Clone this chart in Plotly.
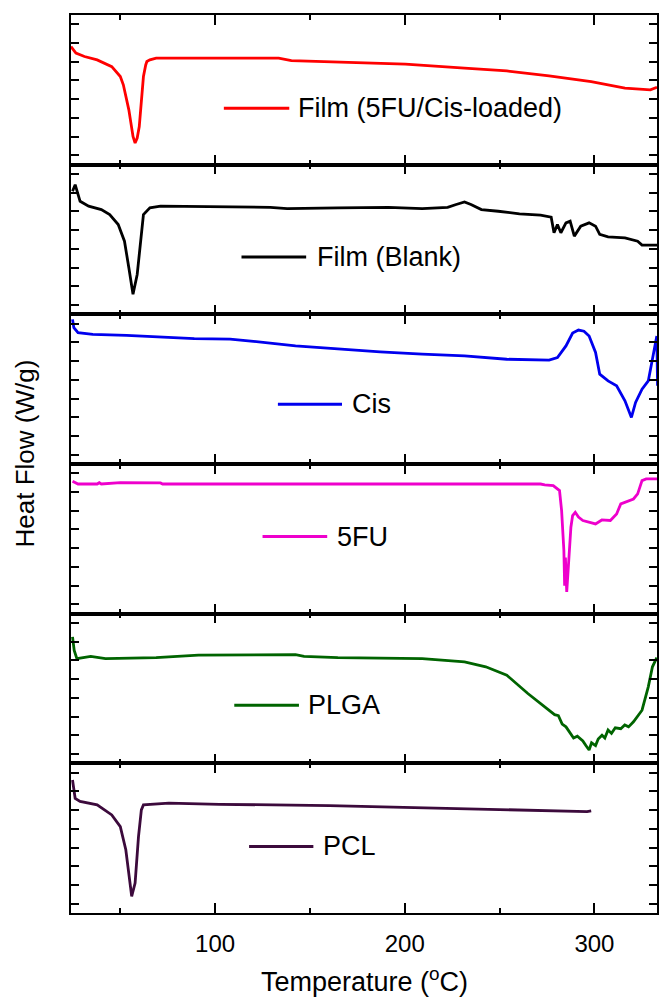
import plotly.graph_objects as go
from plotly.subplots import make_subplots

# ---------------- data ----------------
names = ["Film (5FU/Cis-loaded)", "Film (Blank)", "Cis", "5FU", "PLGA", "PCL"]
colors = ["#ff0000", "#000000", "#0000ee", "#ee00cc", "#006400", "#3c0a3c"]

x_film_loaded = [24.0, 26.6, 31.1, 37.8, 45.5, 50.0, 51.6, 53.3, 54.5, 55.6, 56.7, 57.8, 58.9, 60.0, 60.7,
                 61.8, 62.2, 63.4, 64.0, 65.6, 68.9, 100.0, 133.5, 140.2, 164.7, 200.3, 231.5, 253.8,
                 276.1, 298.3, 316.1, 329.5, 333.0]
y_film_loaded = [6.31, 5.96, 5.78, 5.60, 5.24, 4.71, 4.27, 3.47, 2.93, 2.22, 1.51, 1.16, 1.42, 2.04, 2.93,
                 4.00, 4.71, 5.33, 5.51, 5.60, 5.69, 5.69, 5.69, 5.56, 5.48, 5.37, 5.16, 5.01,
                 4.75, 4.44, 4.09, 4.00, 4.14]

x_film_blank = [24.8, 26.2, 28.8, 33.3, 40.0, 44.4, 48.9, 52.2, 54.5, 56.7, 58.9, 60.7, 62.2, 65.6, 71.2,
                129.1, 138.0, 164.7, 191.4, 209.2, 222.6, 227.1, 231.5, 234.9, 240.4, 249.3, 260.5,
                271.6, 277.2, 278.7, 280.5, 282.3, 285.0, 287.2, 289.4, 292.8, 297.2, 300.6, 302.8,
                307.2, 316.1, 322.8, 325.1, 333.0]
y_film_blank = [6.58, 6.93, 6.04, 5.78, 5.60, 5.33, 4.80, 3.91, 2.49, 1.07, 2.13, 3.91, 5.33, 5.69, 5.78,
                5.72, 5.65, 5.69, 5.72, 5.65, 5.72, 5.87, 6.01, 5.87, 5.60, 5.51, 5.37,
                5.30, 5.19, 4.36, 4.80, 4.36, 4.89, 4.98, 4.18, 4.71, 4.89, 4.71, 4.27,
                4.14, 4.09, 3.91, 3.70, 3.70]

x_cis = [24.8, 25.5, 27.7, 35.5, 53.3, 89.0, 107.9, 120.2, 142.4, 164.7, 187.0, 209.2, 231.5, 253.8,
         276.1, 280.5, 285.0, 288.5, 291.6, 294.5, 297.2, 300.6, 302.8, 307.2, 311.7, 316.1, 319.5,
         321.7, 325.1, 328.4, 330.6, 332.9, 333.3]
y_cis = [7.73, 7.29, 7.02, 6.93, 6.88, 6.70, 6.67, 6.56, 6.31, 6.13, 5.99, 5.87, 5.78, 5.60,
         5.55, 5.69, 6.31, 7.00, 7.16, 7.10, 6.84, 5.96, 4.80, 4.44, 4.18, 3.38, 2.49,
         3.29, 4.00, 4.44, 5.60, 6.84, 4.18]

x_5fu = [24.8, 27.7, 37.8, 38.9, 40.0, 50.0, 71.2, 72.3, 271.6, 273.8, 278.3, 281.6, 282.7, 283.9,
         284.3, 284.7, 285.4, 286.1, 286.7, 287.6, 288.5, 289.9, 291.6, 293.9, 300.6, 303.9, 308.4,
         311.7, 313.9, 320.6, 322.8, 325.1, 327.3, 333.0]
y_5fu = [7.08, 6.93, 6.93, 7.00, 6.93, 7.00, 6.99, 6.93, 6.93, 6.88, 6.84, 6.58, 5.51, 3.38,
         1.50, 3.00, 1.16, 2.50, 3.20, 4.62, 5.24, 5.42, 5.16, 4.98, 4.80, 5.01, 4.98,
         5.33, 5.87, 6.13, 6.40, 7.11, 7.20, 7.20]

x_plga = [24.8, 25.7, 27.1, 34.4, 42.2, 68.9, 91.2, 142.4, 146.9, 164.7, 209.2, 220.4, 231.5, 242.7,
          253.8, 264.9, 276.1, 279.0, 281.0, 283.0, 285.0, 287.2, 289.0, 291.0, 293.9, 295.5, 297.2,
          298.5, 300.6, 302.0, 304.0, 305.5, 307.2, 309.0, 311.0, 313.9, 316.0, 318.0, 320.6, 325.1,
          328.4, 330.6, 332.9]
y_plga = [6.76, 6.04, 5.60, 5.72, 5.60, 5.65, 5.78, 5.81, 5.72, 5.65, 5.60, 5.51, 5.42, 5.16,
          4.71, 3.73, 2.84, 2.60, 2.55, 2.10, 1.95, 1.60, 1.35, 1.45, 1.20, 0.95, 0.71,
          1.10, 0.95, 1.30, 1.50, 1.35, 1.78, 1.60, 1.90, 1.85, 2.05, 1.95, 2.22, 2.84,
          4.09, 5.16, 5.65]

x_pcl = [24.8, 26.2, 28.8, 37.8, 45.5, 50.0, 52.9, 54.5, 56.0, 57.8, 59.6, 61.1, 62.2, 75.6, 102.3,
         160.2, 202.6, 234.9, 267.1, 296.1, 298.3]
y_pcl = [7.11, 6.13, 5.96, 5.78, 5.24, 4.62, 3.38, 1.96, 0.89, 1.60, 4.09, 5.51, 5.78, 5.87, 5.81,
         5.74, 5.64, 5.55, 5.46, 5.42, 5.46]

series_x = [x_film_loaded, x_film_blank, x_cis, x_5fu, x_plga, x_pcl]
series_y = [y_film_loaded, y_film_blank, y_cis, y_5fu, y_plga, y_pcl]

# legend placement (layout): line start, line end, y level, text start
legend_pos = [(104.6, 139.1, 3.02, 142.4),
              (113.9, 148.0, 3.06, 152.4),
              (133.1, 166.9, 3.20, 170.9),
              (125.0, 159.1, 4.12, 163.1),
              (110.1, 144.2, 3.11, 148.0),
              (117.9, 151.8, 3.56, 155.8)]

FONT = "Liberation Sans, Arial, sans-serif"

fig = make_subplots(rows=6, cols=1, shared_xaxes=True, vertical_spacing=0)

for i in range(6):
    fig.add_trace(go.Scatter(x=series_x[i], y=series_y[i], mode="lines",
                             line=dict(color=colors[i], width=2.8),
                             showlegend=False, hoverinfo="skip"),
                  row=i + 1, col=1)
    lx0, lx1, ly, tx = legend_pos[i]
    fig.add_shape(type="line", x0=lx0, x1=lx1, y0=ly, y1=ly,
                  line=dict(color=colors[i], width=3), row=i + 1, col=1)
    fig.add_annotation(x=tx, y=ly, text=names[i], showarrow=False, xanchor="left",
                       yanchor="middle", font=dict(family=FONT, size=27, color="black"),
                       row=i + 1, col=1)

fig.update_xaxes(range=[24, 333], tick0=0, dtick=100, ticks="inside", ticklen=10, tickwidth=2,
                 tickcolor="black", showline=True, linecolor="black", linewidth=1.5, mirror="ticks",
                 showgrid=False, zeroline=False, ticklabelstandoff=8,
                 minor=dict(ticks="inside", tick0=0, dtick=50, ticklen=5, tickwidth=2,
                            tickcolor="black", showgrid=False),
                 tickfont=dict(family=FONT, size=24, color="black"))

fig.update_yaxes(range=[0, 8], tickvals=[0.5, 1.5, 2.5, 3.5, 4.5, 5.5, 6.5, 7.5],
                 ticks="inside", ticklen=8, tickwidth=2, tickcolor="black",
                 showticklabels=False, showline=True, linecolor="black", linewidth=1.5,
                 mirror="ticks", showgrid=False, zeroline=False)

fig.add_annotation(xref="paper", yref="paper", x=-0.078, y=0.512, text="Heat Flow (W/g)",
                   textangle=-90, showarrow=False, xanchor="center", yanchor="middle",
                   font=dict(family=FONT, size=26, color="black"))
fig.add_annotation(xref="paper", yref="paper", x=0.5, y=-0.0746, text="Temperature (<sup>o</sup>C)",
                   showarrow=False, xanchor="center", yanchor="middle",
                   font=dict(family=FONT, size=27, color="black"))

fig.update_layout(width=663, height=1000, margin=dict(l=71, r=4, t=15, b=87),
                  plot_bgcolor="white", paper_bgcolor="white", showlegend=False)

fig.write_html("out.html")
